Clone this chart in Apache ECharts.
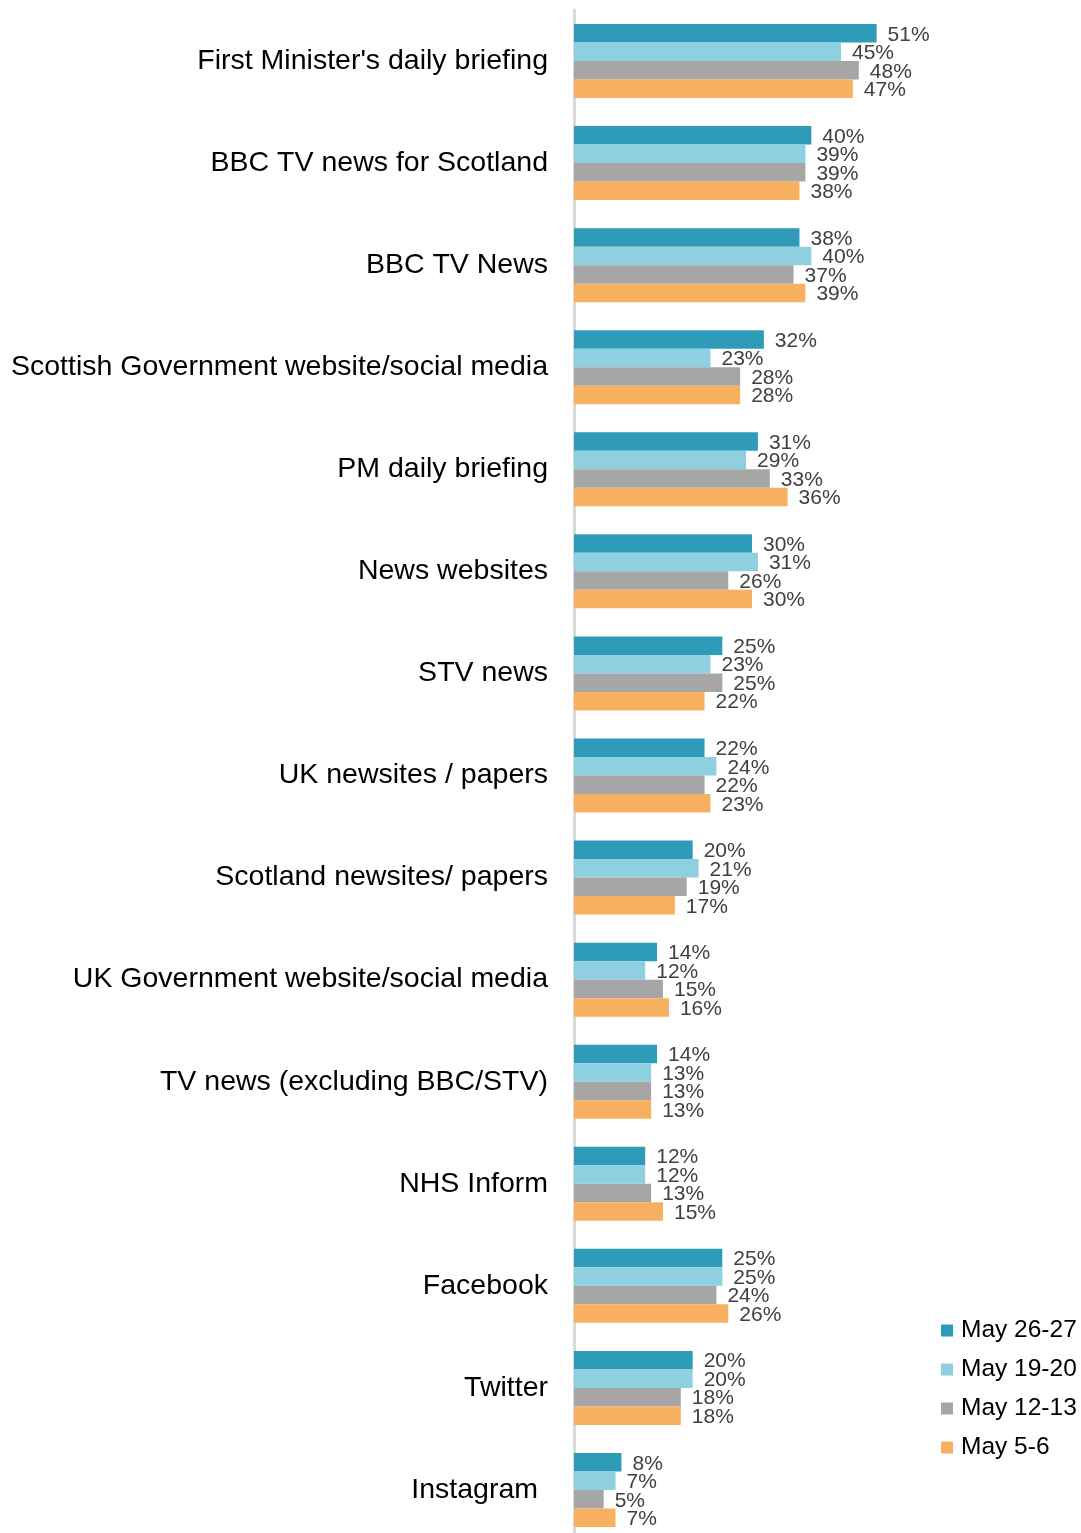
<!DOCTYPE html>
<html>
<head>
<meta charset="utf-8">
<script src="https://cdn.jsdelivr.net/npm/echarts@6/dist/echarts.min.js"></script>
<style>
  html, body { margin: 0; padding: 0; background: #fff; overflow: hidden; }
  #main { width: 1081px; height: 1545px; }
</style>
</head>
<body>
<div id="main"></div>
<script>
var categories = [
    "First Minister's daily briefing",
    'BBC TV news for Scotland',
    'BBC TV News',
    'Scottish Government website/social media',
    'PM daily briefing',
    'News websites',
    'STV news',
    'UK newsites / papers',
    'Scotland newsites/ papers',
    'UK Government website/social media',
    'TV news (excluding BBC/STV)',
    'NHS Inform',
    'Facebook',
    'Twitter',
    'Instagram'
];

var seriesNames = ['May 26-27', 'May 19-20', 'May 12-13', 'May 5-6'];

var may2627 = [51, 40, 38, 32, 31, 30, 25, 22, 20, 14, 14, 12, 25, 20, 8];
var may1920 = [45, 39, 40, 23, 29, 31, 23, 24, 21, 12, 13, 12, 25, 20, 7];
var may1213 = [48, 39, 37, 28, 33, 26, 25, 22, 19, 15, 13, 13, 24, 18, 5];
var may0506 = [47, 38, 39, 28, 36, 30, 22, 23, 17, 16, 13, 15, 26, 18, 7];

var colors = ['#2E9CB8', '#8FD0E0', '#A6A6A6', '#F7B060'];

// the div is a bit taller than the window so the last group sits at the very bottom
var myChart = echarts.init(document.getElementById('main'));

function makeSeries(name, data, color) {
    return {
        name: name,
        type: 'bar',
        data: data,
        barWidth: 18.5,
        barGap: '0%',
        itemStyle: { color: color },
        label: {
            show: true,
            position: 'right',
            distance: 11,
            offset: [0, 1.5],
            formatter: '{c}%',
            color: '#404040',
            fontSize: 21,
            fontFamily: 'Liberation Sans, Arial, sans-serif'
        }
    };
}

// the last label sits a little further from the axis in the original
var yData = categories.map(function (c, i) {
    if (i == categories.length - 1) {
        return { value: c, textStyle: { padding: [0, 10, 0, 0] } };
    }
    return c;
});

var option = {
    animation: false,
    color: colors,
    grid: {
        left: 574,
        top: 10,
        right: 151,
        bottom: 4
    },
    legend: {
        orient: 'vertical',
        left: 936,
        top: 1313,
        icon: 'rect',
        itemWidth: 12,
        itemHeight: 12,
        itemGap: 14,
        textStyle: {
            color: '#000',
            fontSize: 24.5,
            padding: [0, 0, 0, 3],
            fontFamily: 'Liberation Sans, Arial, sans-serif'
        },
        data: seriesNames
    },
    xAxis: {
        type: 'value',
        min: 0,
        max: 60,
        show: false
    },
    yAxis: {
        type: 'category',
        inverse: true,
        data: yData,
        offset: 2,
        axisTick: { show: false },
        axisLine: { lineStyle: { color: '#D9D9D9', width: 3 } },
        axisLabel: {
            margin: 24,
            color: '#000',
            fontSize: 28.5,
            fontFamily: 'Liberation Sans, Arial, sans-serif'
        }
    },
    series: [
        makeSeries(seriesNames[0], may2627, colors[0]),
        makeSeries(seriesNames[1], may1920, colors[1]),
        makeSeries(seriesNames[2], may1213, colors[2]),
        makeSeries(seriesNames[3], may0506, colors[3])
    ]
};

myChart.setOption(option);
</script>
</body>
</html>
